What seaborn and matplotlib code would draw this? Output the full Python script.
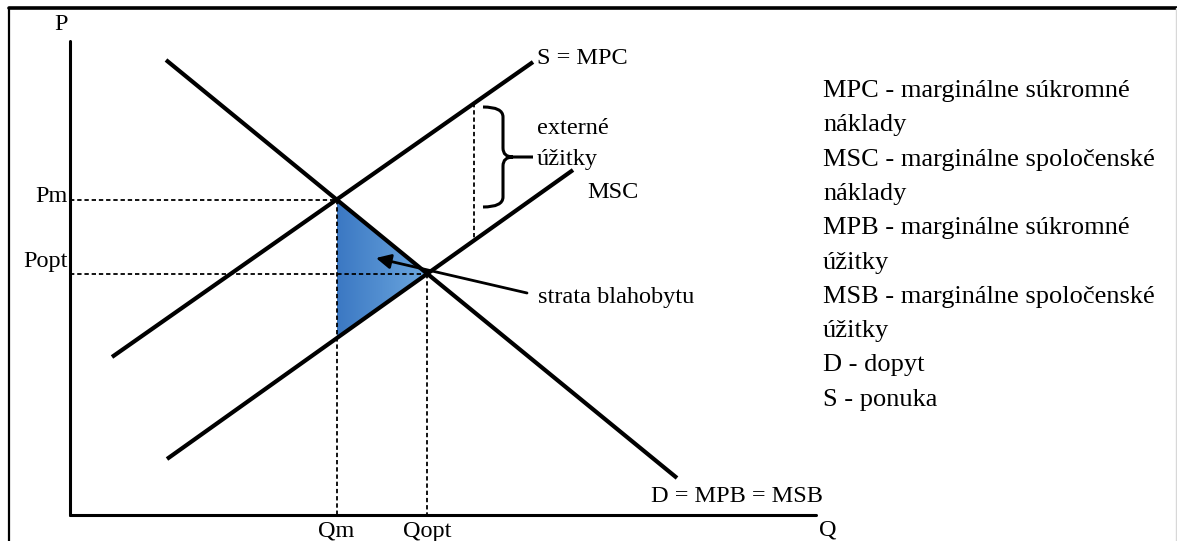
import numpy as np
import seaborn as sns
import matplotlib.pyplot as plt
from matplotlib.path import Path
from matplotlib.patches import PathPatch, Polygon
from matplotlib.colors import LinearSegmentedColormap

sns.set_style('white')
plt.rcParams['font.family'] = ['Liberation Serif', 'DejaVu Serif']
plt.rcParams['text.color'] = 'black'

# curve end points (diagram units, y grows downward like the picture)
mpc_x = [112, 533]
mpc_y = [357, 62]
msc_x = [167, 573]
msc_y = [459, 170]
d_x = [166, 677]
d_y = [60, 478]

# axes of the diagram
origin = (70, 515)
p_axis_top = 41
q_axis_end = 816

# external benefit marker (x of the dashed line)
ext_x = 474

legend_lines = ['MPC - marginálne súkromné', 'náklady',
                'MSC - marginálne spoločenské', 'náklady',
                'MPB - marginálne súkromné', 'úžitky',
                'MSB - marginálne spoločenské', 'úžitky',
                'D - dopyt', 'S - ponuka']


def line_at(xs, ys, x):
    return ys[0] + (ys[1] - ys[0]) / (xs[1] - xs[0]) * (x - xs[0])


def cross(xa, ya, xb, yb):
    ka = (ya[1] - ya[0]) / (xa[1] - xa[0])
    kb = (yb[1] - yb[0]) / (xb[1] - xb[0])
    x = (yb[0] - kb * xb[0] - ya[0] + ka * xa[0]) / (ka - kb)
    return x, ya[0] + ka * (x - xa[0])


qm, pm = cross(mpc_x, mpc_y, d_x, d_y)
qopt, popt = cross(msc_x, msc_y, d_x, d_y)
low = line_at(msc_x, msc_y, qm)

fig = plt.figure(figsize=(11.77, 5.41), dpi=100)
ax = fig.add_axes([0, 0, 1, 1])
ax.set_xlim(0, 1177)
ax.set_ylim(541, 0)
ax.axis('off')

# frame around the picture
ax.plot([9, 9], [545, 8], color='black', lw=1.6)
ax.plot([9, 1177], [8, 8], color='black', lw=2.6)
ax.plot([1175.5, 1175.5], [8, 545], color='#d8d8d8', lw=1)

# welfare loss triangle with horizontal gradient
tri = Polygon([(qm, pm), (qopt, popt), (qm, low)], closed=True,
              facecolor='none', edgecolor='none')
ax.add_patch(tri)
cmap = LinearSegmentedColormap.from_list('bl', ['#3b78c3', '#6ca7df'])
grad = np.linspace(0, 1, 256).reshape(1, -1)
im = ax.imshow(grad, cmap=cmap, aspect='auto',
               extent=(qm, qopt, low, pm), zorder=1)
im.set_clip_path(tri)
ax.set_xlim(0, 1177)
ax.set_ylim(541, 0)

# dashed guides
dash = dict(color='black', lw=1.3, linestyle=(0, (2.4, 1.6)), zorder=2)
ax.plot([origin[0], qm], [pm, pm], **dash)
ax.plot([origin[0], qopt], [popt, popt], **dash)
ax.plot([qm, qm], [pm, origin[1]], **dash)
ax.plot([qopt, qopt], [popt, origin[1]], **dash)
ax.plot([ext_x, ext_x], [line_at(mpc_x, mpc_y, ext_x),
                         line_at(msc_x, msc_y, ext_x)], **dash)

# axes
ax.plot([origin[0], origin[0]], [p_axis_top, origin[1]], color='black', lw=2.2, zorder=3)
ax.plot([origin[0], q_axis_end], [origin[1], origin[1]], color='black', lw=2.2, zorder=3)

# curves
for xs, ys in [(mpc_x, mpc_y), (msc_x, msc_y), (d_x, d_y)]:
    sns.lineplot(x=xs, y=ys, ax=ax, color='black', lw=3, sort=False, zorder=4)
    ax.lines[-1].set_solid_capstyle('butt')

# brace for external benefits
bx, by0, by1, tip = 503, 107, 207, 533
mid = (by0 + by1) / 2
verts = [(483, by0), (bx, by0), (bx, by0 + 10),
         (bx, mid - 9),
         (bx, mid), (bx + 10, mid),
         (tip, mid),
         (bx + 10, mid), (bx, mid), (bx, mid + 9),
         (bx, by1 - 10),
         (bx, by1), (483, by1)]
codes = [Path.MOVETO, Path.CURVE3, Path.CURVE3,
         Path.LINETO,
         Path.CURVE3, Path.CURVE3,
         Path.LINETO,
         Path.MOVETO, Path.CURVE3, Path.CURVE3,
         Path.LINETO,
         Path.CURVE3, Path.CURVE3]
ax.add_patch(PathPatch(Path(verts, codes), facecolor='none',
                       edgecolor='black', lw=2.2, zorder=4))

# arrow to the triangle
ax.annotate('', xy=(376, 258), xytext=(527, 293),
            arrowprops=dict(arrowstyle='-|>', color='black', lw=2,
                            mutation_scale=22, shrinkA=0, shrinkB=0),
            zorder=5)

fs = 17.5
ax.text(61, 25, 'P', fontsize=fs, ha='center', va='center')
ax.text(828, 530, 'Q', fontsize=fs, ha='center', va='center')
ax.text(68, 196, 'Pm', fontsize=fs, ha='right', va='center')
ax.text(68, 262, 'Popt', fontsize=fs, ha='right', va='center')
ax.text(qm, 531, 'Qm', fontsize=fs, ha='center', va='center')
ax.text(qopt, 531, 'Qopt', fontsize=fs, ha='center', va='center')
ax.text(537, 59, 'S = MPC', fontsize=fs, ha='left', va='center')
ax.text(537, 128, 'externé', fontsize=fs, ha='left', va='center')
ax.text(537, 159, 'úžitky', fontsize=fs, ha='left', va='center')
ax.text(587, 193, 'MSC', fontsize=fs, ha='left', va='center')
ax.text(538, 297, 'strata blahobytu', fontsize=fs, ha='left', va='center')
ax.text(823, 496, 'D = MPB = MSB', fontsize=fs, ha='right', va='center')

for i, s in enumerate(legend_lines):
    ax.text(823, 91 + i * 34.3, s, fontsize=19, ha='left', va='center')

fig.savefig('out.png', dpi=100)
